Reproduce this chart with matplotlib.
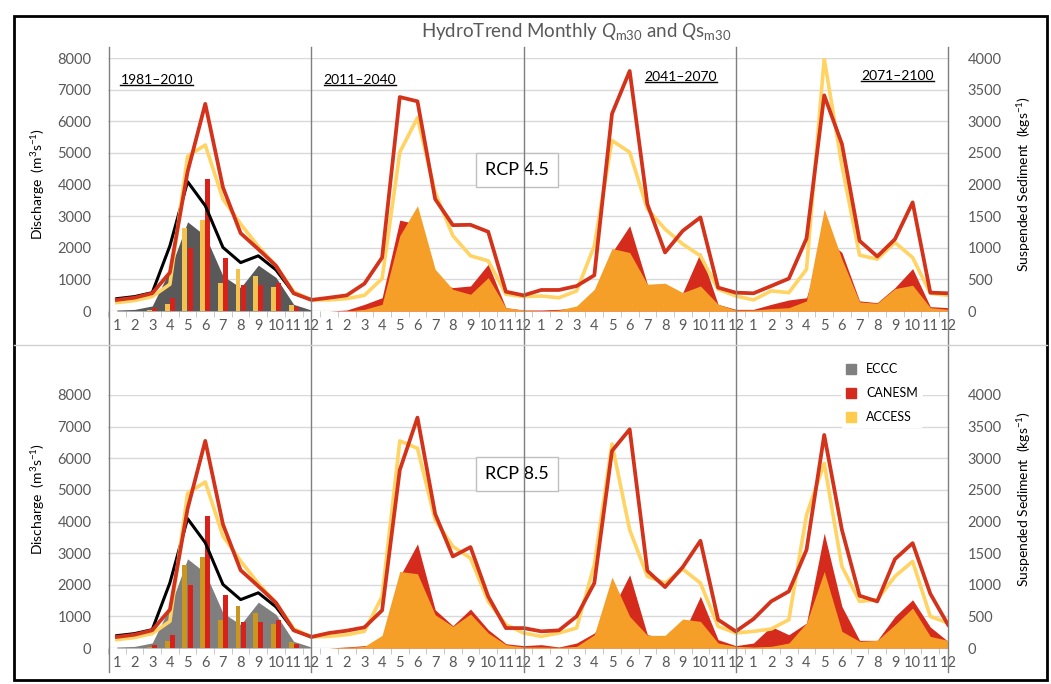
import matplotlib
matplotlib.use("Agg")
import matplotlib.pyplot as plt
import matplotlib.transforms as mtransforms
from matplotlib.lines import Line2D
from matplotlib.patches import Rectangle
import numpy as np

plt.rcParams['font.family'] = ['Lato', 'DejaVu Sans']
plt.rcParams['mathtext.fontset'] = 'custom'
plt.rcParams['mathtext.rm'] = 'Lato'
plt.rcParams['mathtext.it'] = 'Lato:italic'
plt.rcParams['mathtext.bf'] = 'Lato:bold'

# --- DATA ---
month_labels = [str(m) for m in range(1, 13)] * 4
periods = ["1981–2010", "2011–2040", "2041–2070", "2071–2100"]
models = ["ECCC", "CANESM", "ACCESS"]

# historical 1981-2010 (same in both panels)
hist_q_eccc = [390, 455, 580, 2060, 4090, 3330, 2010, 1530, 1745, 1300, 560, 360]
hist_q_canesm = [350, 420, 560, 1215, 4400, 6550, 3910, 2460, 1955, 1430, 560, 350]
hist_q_access = [265, 330, 455, 845, 4890, 5250, 3540, 2750, 2040, 1430, 610, 350]
hist_qs_eccc = [15, 25, 80, 650, 1410, 1190, 555, 370, 725, 530, 105, 15]
hist_qs_canesm = [0, 5, 55, 200, 995, 2090, 835, 410, 405, 450, 70, 0]
hist_qs_access = [0, 0, 15, 115, 1320, 1435, 435, 670, 555, 385, 95, 0]

# RCP 4.5, 2011-2100
rcp45_q_canesm = [420, 495, 865, 1690, 6765, 6630, 3540, 2715, 2725, 2505, 610, 495,
                  665, 665, 790, 1130, 6235, 7590, 3380, 1850, 2535, 2960, 740, 580,
                  560, 790, 1025, 2295, 6820, 5285, 2220, 1725, 2270, 3435, 580, 560]
rcp45_q_access = [350, 390, 495, 1025, 5020, 6110, 3750, 2380, 1745, 1585, 530, 455,
                  475, 420, 635, 2060, 5390, 5020, 3225, 2590, 2115, 1745, 690, 475,
                  350, 635, 580, 1320, 7980, 4600, 1765, 1640, 2165, 1690, 560, 495]
rcp45_qs_canesm = [0, 15, 105, 210, 1437, 1374, 450, 370, 396, 740, 53, 15,
                   15, 26, 53, 80, 925, 1348, 423, 132, 290, 925, 105, 26,
                   26, 105, 175, 210, 1163, 925, 160, 132, 370, 671, 69, 53]
rcp45_qs_access = [0, 0, 26, 105, 1190, 1665, 660, 343, 264, 528, 53, 15,
                   0, 15, 80, 343, 988, 925, 423, 439, 290, 396, 105, 15,
                   15, 37, 53, 160, 1612, 820, 143, 122, 354, 407, 53, 26]

# RCP 8.5, 2011-2100
rcp85_q_canesm = [474, 547, 653, 1190, 5630, 7285, 4240, 2895, 3190, 1630, 630, 630,
                  526, 558, 1000, 2053, 6231, 6915, 2442, 1926, 2558, 3390, 895, 526,
                  916, 1474, 1790, 3105, 6737, 3737, 1653, 1474, 2810, 3316, 1716, 737]
rcp85_q_access = [368, 420, 526, 1630, 6547, 6315, 4050, 3210, 2840, 1474, 737, 474,
                  368, 474, 632, 2630, 6452, 3737, 2263, 2053, 2495, 2053, 684, 474,
                  526, 600, 895, 4210, 5842, 2579, 1474, 1526, 2263, 2737, 1000, 790]
rcp85_qs_canesm = [0, 16, 37, 68, 1130, 1647, 605, 353, 616, 290, 68, 37,
                   53, 16, 79, 237, 605, 1158, 210, 158, 210, 816, 132, 37,
                   79, 340, 210, 395, 1816, 658, 121, 121, 500, 763, 332, 105]
rcp85_qs_access = [0, 10, 26, 200, 1210, 1174, 526, 342, 537, 237, 53, 16,
                   16, 10, 26, 210, 1121, 500, 200, 200, 458, 421, 79, 26,
                   16, 26, 79, 395, 1210, 263, 105, 121, 368, 632, 184, 121]

# --- STYLE ---
RED_LINE = "#D3321B"
YEL_LINE = "#FFD464"
RED_FILL = "#D42B1D"
ORA_FILL = "#F59F28"
TICK_C = "#595959"
W, H = 1051, 684

fig = plt.figure(figsize=(10.51, 6.84), dpi=100)


def px_box(l, r, top, bot):
    return [l / W, 1 - bot / H, (r - l) / W, (bot - top) / H]


def draw_panel(box, q_can, q_acc, qs_can, qs_acc, grey, bar_yel, rcp, rcp_y, lab_y, show_periods):
    x = np.arange(len(month_labels))
    xf = x[12:]
    ax = fig.add_axes(box)          # sediment (drawn below)
    ax2 = ax.twinx()                # discharge (drawn on top)

    # sediment
    ax.fill_between(x[:12], 0, hist_qs_eccc, color=grey, lw=0, zorder=1)
    ax.bar(x[:12] - 0.15, hist_qs_access, width=0.28, color=bar_yel, zorder=2)
    ax.bar(x[:12] + 0.15, hist_qs_canesm, width=0.28, color="#D8211A", zorder=2)
    ax.fill_between(xf, 0, qs_can, color=RED_FILL, lw=0, zorder=2)
    ax.fill_between(xf, 0, qs_acc, color=ORA_FILL, lw=0, zorder=3)

    # discharge
    ax2.plot(x[:12], hist_q_eccc, color="black", lw=2.2)
    ax2.plot(x, hist_q_access + q_acc, color=YEL_LINE, lw=2.6)
    ax2.plot(x, hist_q_canesm + q_can, color=RED_LINE, lw=2.7)

    ax.set_xlim(-0.45, 47)
    ax.set_ylim(0, 4000)
    ax2.set_ylim(0, 8000)
    ax.set_yticks(np.arange(0, 4001, 500))
    ax2.set_yticks(np.arange(0, 8001, 1000))
    ax.set_xticks(x)
    ax.set_xticklabels(month_labels)
    ax.set_xticks(np.arange(-0.5, 47, 1), minor=True)

    ax.yaxis.tick_right()
    ax.yaxis.set_label_position("right")
    ax2.yaxis.tick_left()
    ax2.yaxis.set_label_position("left")

    ax.grid(axis="y", color="#D9D9D9", lw=1)
    ax.set_axisbelow(True)
    for a in (ax, ax2):
        for s in a.spines.values():
            s.set_visible(False)
    ax.tick_params(axis="x", which="major", length=0, pad=6, labelsize=10.5, labelcolor=TICK_C)
    ax.tick_params(axis="x", which="minor", length=4, color="#BFBFBF")
    ax.tick_params(axis="y", length=0, pad=14, labelsize=10.5, labelcolor=TICK_C)
    ax2.tick_params(axis="y", length=0, pad=12, labelsize=10.5, labelcolor=TICK_C)

    ax2.set_ylabel("Discharge  (m$^3$s$^{-1}$)", fontsize=10)
    ax.set_ylabel("Suspended Sediment  (kgs$^{-1}$)", fontsize=10)
    ax2.yaxis.set_label_coords(-0.073, lab_y)
    ax.yaxis.set_label_coords(1.08, lab_y)

    ax2.text(0.487, rcp_y, rcp, transform=ax2.transAxes, ha="center", va="center",
             fontsize=13, bbox=dict(boxstyle="square,pad=0.5", fc="white", ec="#BFBFBF", lw=1))

    texts = []
    if show_periods:
        for lab, px, py in zip(periods, [0.058, 0.30, 0.682, 0.94], [0.913, 0.913, 0.925, 0.929]):
            texts.append(ax2.text(px, py, lab, transform=ax2.transAxes, ha="center",
                                  va="center", fontsize=10))
    return ax, texts


ax_top, period_texts = draw_panel(px_box(108, 948, 58, 311), rcp45_q_canesm, rcp45_q_access,
                                  rcp45_qs_canesm, rcp45_qs_access, "#595959", "#F2C14E",
                                  "RCP 4.5", 0.557, 0.5, True)
ax_bot, _ = draw_panel(px_box(108, 948, 395, 648), rcp85_q_canesm, rcp85_q_access,
                       rcp85_qs_canesm, rcp85_qs_access, "#7F7F7F", "#C9971F",
                       "RCP 8.5", 0.688, 0.59, False)

# period separators spanning both panels
tr = mtransforms.blended_transform_factory(ax_top.transData, fig.transFigure)
for xv in [-0.45, 11, 23, 35, 47]:
    fig.add_artist(Line2D([xv, xv], [1 - 47 / H, 1 - 672 / H], transform=tr,
                          color="#7F7F7F", lw=1))
fig.add_artist(Line2D([14 / W, 1047 / W], [1 - 345 / H, 1 - 345 / H],
                      transform=fig.transFigure, color="#D0D0D0", lw=1))
fig.add_artist(Rectangle((14 / W, 1 - 680 / H), 1033 / W, 664 / H, transform=fig.transFigure,
                         fill=False, ec="black", lw=2))

fig.text(0.548, 1 - 31 / H, r"HydroTrend Monthly $Q_{\mathrm{m30}}$ and $Q\mathrm{s}_{\mathrm{m30}}$",
         ha="center", va="center", fontsize=13.5, color=TICK_C)

# legend
handles = [Line2D([], [], ls="none", marker="s", ms=7, color=c)
           for c in ["#808080", "#D42B1D", "#FFCC4D"]]
fig.legend(handles, models, loc="upper left", bbox_to_anchor=(835 / W, 1 - 352 / H),
           fontsize=9, frameon=True, facecolor="white", edgecolor="none", framealpha=1,
           handlelength=0.8, handletextpad=0.8, labelspacing=0.95, borderpad=0.4)

# underline the period labels
fig.canvas.draw()
renderer = fig.canvas.get_renderer()
for t in period_texts:
    bb = t.get_window_extent(renderer).transformed(fig.transFigure.inverted())
    fig.add_artist(Line2D([bb.x0, bb.x1], [bb.y0 + 0.001, bb.y0 + 0.001],
                          transform=fig.transFigure, color="black", lw=1))

fig.savefig("out.png", dpi=100)
